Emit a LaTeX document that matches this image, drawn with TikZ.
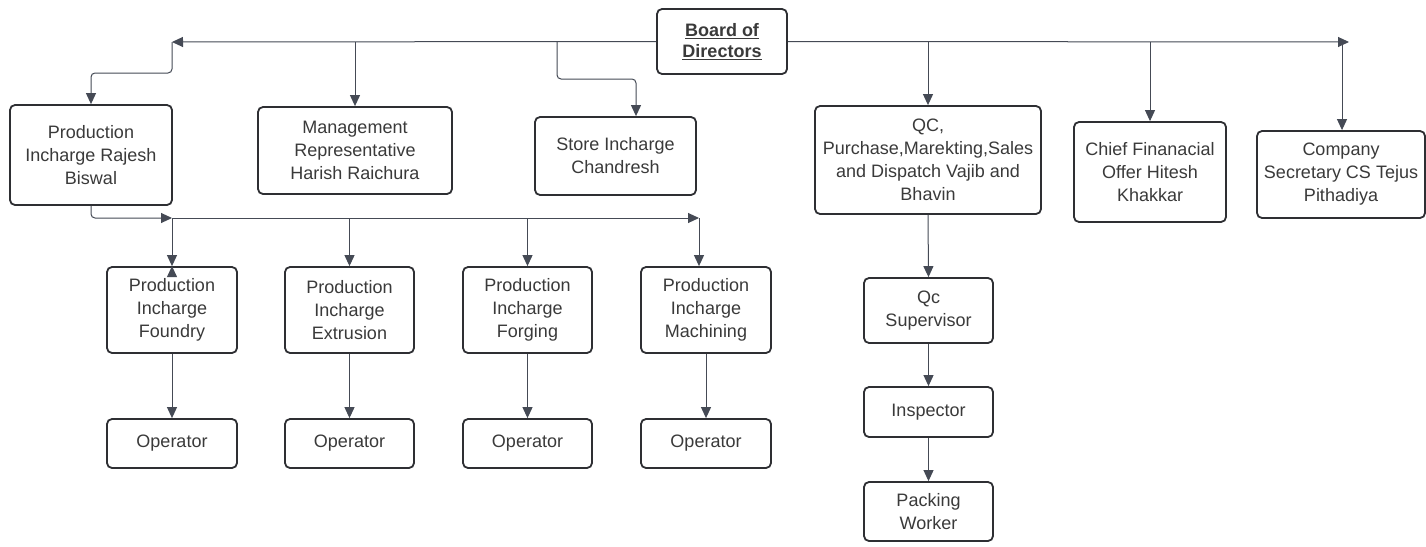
\documentclass[tikz,border=0pt]{standalone}
\usepackage{fontspec}
\setmainfont{Liberation Sans}
\usetikzlibrary{arrows.meta,calc}
\definecolor{linec}{HTML}{454A55}
\definecolor{boxc}{HTML}{2E2F33}
\definecolor{textc}{HTML}{3A3A3A}
\begin{document}
\begin{tikzpicture}[x=1pt,y=-1pt,
  box/.style={draw=boxc, line width=1.8pt, rounded corners=5pt, align=center,
    font=\fontsize{18}{23}\selectfont, text=textc, inner sep=0pt},
  conn/.style={draw=linec, line width=1pt, -{Triangle[length=11pt,width=10pt]}},
  plain/.style={draw=linec, line width=1pt}]
\useasboundingbox (0,0) rectangle (1426,546);
\fill[white] (0,0) rectangle (1426,546);

% top level
\node[box, minimum width=130pt, minimum height=65pt, font=\fontsize{18}{21}\selectfont\bfseries] (bod) at (722,41.5) {\underline{Board of}\\\underline{Directors}};
\node[box, minimum width=162pt, minimum height=100pt] (rb) at (91,155) {Production\\Incharge Rajesh\\Biswal};
\node[box, minimum width=194pt, minimum height=87pt] (mr) at (355,150.5) {Management\\Representative\\Harish Raichura};
\node[box, minimum width=161pt, minimum height=78pt] (si) at (615.5,156) {Store Incharge\\Chandresh};
\node[box, minimum width=226pt, minimum height=108pt] (qc) at (928,160) {QC,\\Purchase,Marekting,Sales\\and Dispatch Vajib and\\Bhavin};
\node[box, minimum width=152pt, minimum height=100pt] (cfo) at (1150,172) {Chief Finanacial\\Offer Hitesh\\Khakkar};
\node[box, minimum width=168pt, minimum height=87pt] (cs) at (1341,174.5) {Company\\Secretary CS Tejus\\Pithadiya};

% production incharges
\node[box, minimum width=130pt, minimum height=86pt] (f1) at (172,310) {Production\\Incharge\\Foundry};
\node[box, minimum width=129pt, minimum height=86pt] (f2) at (349.5,310) {Production\\Incharge\\Extrusion};
\node[box, minimum width=129pt, minimum height=86pt] (f3) at (527.5,310) {Production\\Incharge\\Forging};
\node[box, minimum width=130pt, minimum height=86pt] (f4) at (706,310) {Production\\Incharge\\Machining};

% operators
\node[box, minimum width=130pt, minimum height=49pt] (o1) at (172,443.5) {Operator};
\node[box, minimum width=129pt, minimum height=49pt] (o2) at (349.5,443.5) {Operator};
\node[box, minimum width=129pt, minimum height=49pt] (o3) at (527.5,443.5) {Operator};
\node[box, minimum width=130pt, minimum height=49pt] (o4) at (706,443.5) {Operator};

% QC chain
\node[box, minimum width=129pt, minimum height=65pt] (qs) at (928.5,310.5) {Qc\\Supervisor};
\node[box, minimum width=129pt, minimum height=50pt] (ins) at (928.5,412) {Inspector};
\node[box, minimum width=129pt, minimum height=59pt] (pw) at (928.5,511.5) {Packing\\Worker};

% board bus
\coordinate (bl) at (172,42);
\coordinate (br) at (1349,42);
\draw[conn] (bod.west) -- (bl);
\draw[conn] (bod.east) -- (br);
\draw[conn, rounded corners=4pt] (bl) -- ++(0,31) -| (rb.north);
\draw[conn] (bl -| mr.north) -- (mr.north);
\coordinate (sj) at (557,42);
\coordinate (st) at ([xshift=20.5pt]si.north);
\draw[conn, rounded corners=4pt] (sj) -- ++(0,37) -| (st);
\draw[conn] (bl -| qc.north) -- (qc.north);
\draw[conn] (bl -| cfo.north) -- (cfo.north);
\draw[conn] (br |- bl) ++(-7,0) coordinate (cst) (cst) -- (cst |- cs.north);

% production bus
\coordinate (pb1) at (172,218);
\coordinate (pb2) at (699,218);
\draw[conn, rounded corners=4pt] (rb.south) |- (pb1);
\draw[conn] (pb1) -- (pb2);
\draw[conn] (pb1) -- (f1.north);
\draw[conn] ([xshift=-10pt]f1.north) ++(10pt,-10pt) coordinate (bt) (bt) -- (f1.north);
\draw[conn] (pb1 -| f2.north) -- (f2.north);
\draw[conn] (pb1 -| f3.north) -- (f3.north);
\draw[conn] (pb2) -- (pb2 |- f4.north);

\draw[conn] (f1.south) -- (o1.north);
\draw[conn] (f2.south) -- (o2.north);
\draw[conn] (f3.south) -- (o3.north);
\draw[conn] (f4.south) -- (o4.north);

\draw[conn] (qc.south) -- (qs.north);
\draw[conn] (qs.south) -- (ins.north);
\draw[conn] (ins.south) -- (pw.north);
\end{tikzpicture}
\end{document}
